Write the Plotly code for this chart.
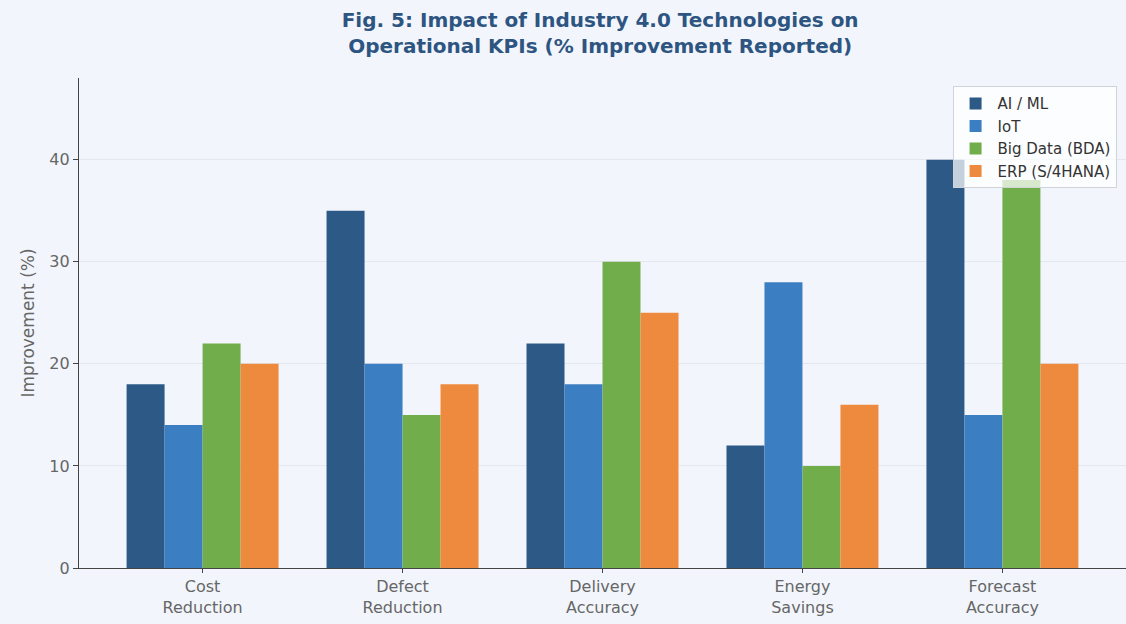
import plotly.graph_objects as go

categories = ["Cost<br>Reduction", "Defect<br>Reduction", "Delivery<br>Accuracy",
              "Energy<br>Savings", "Forecast<br>Accuracy"]
series_names = ["AI / ML", "IoT", "Big Data (BDA)", "ERP (S/4HANA)"]
ai_ml = [18, 35, 22, 12, 40]
iot = [14, 20, 18, 28, 15]
big_data = [22, 15, 30, 10, 38]
erp = [20, 18, 25, 16, 20]
y_ticks = [0, 10, 20, 30, 40]

colors = ["#2d5986", "#3c7ec2", "#72ad4c", "#ee8a3e"]
bar_w = 0.19
offsets = [-1.5 * bar_w, -0.5 * bar_w, 0.5 * bar_w, 1.5 * bar_w]

fig = go.Figure()
for name, vals, col, off in zip(series_names, [ai_ml, iot, big_data, erp], colors, offsets):
    fig.add_trace(go.Bar(
        x=[i + off for i in range(len(categories))],
        y=vals,
        width=bar_w,
        name=name,
        marker=dict(color=col, line=dict(width=0)),
    ))

bg = "#f2f6fc"
fig.update_layout(
    width=1126, height=624,
    paper_bgcolor=bg, plot_bgcolor=bg,
    margin=dict(l=79, r=0, t=78, b=56),
    font=dict(family="DejaVu Sans", color="#555555"),
    title=dict(
        text="<b>Fig. 5: Impact of Industry 4.0 Technologies on<br>Operational KPIs (% Improvement Reported)</b>",
        x=0.533, xanchor="center", y=0.957, yanchor="top",
        font=dict(size=20, color="#2e5581", family="DejaVu Sans"),
    ),
    barmode="overlay",
    showlegend=True,
    legend=dict(
        x=0.991, y=0.983, xanchor="right", yanchor="top",
        bgcolor="rgba(255,255,255,0.72)", bordercolor="#d0d4da", borderwidth=1,
        font=dict(size=15, color="#333333"),
        tracegroupgap=0, itemwidth=34,
    ),
    xaxis=dict(
        range=[-0.618, 4.618],
        tickmode="array", tickvals=list(range(len(categories))), ticktext=categories,
        showgrid=False, zeroline=False,
        showline=True, linecolor="#444444", linewidth=1.2,
        ticks="outside", ticklen=4, tickcolor="#444444",
        tickfont=dict(size=16, color="#666666"),
    ),
    yaxis=dict(
        range=[0, 48],
        tickmode="array", tickvals=y_ticks,
        showgrid=True, gridcolor="#e3e7ee", gridwidth=1,
        zeroline=False,
        showline=True, linecolor="#444444", linewidth=1.2,
        ticks="outside", ticklen=5, tickcolor="#444444",
        tickfont=dict(size=16, color="#666666"),
        title=dict(text="Improvement (%)", font=dict(size=17, color="#666666"), standoff=10),
    ),
)

fig.write_html("out.html")
